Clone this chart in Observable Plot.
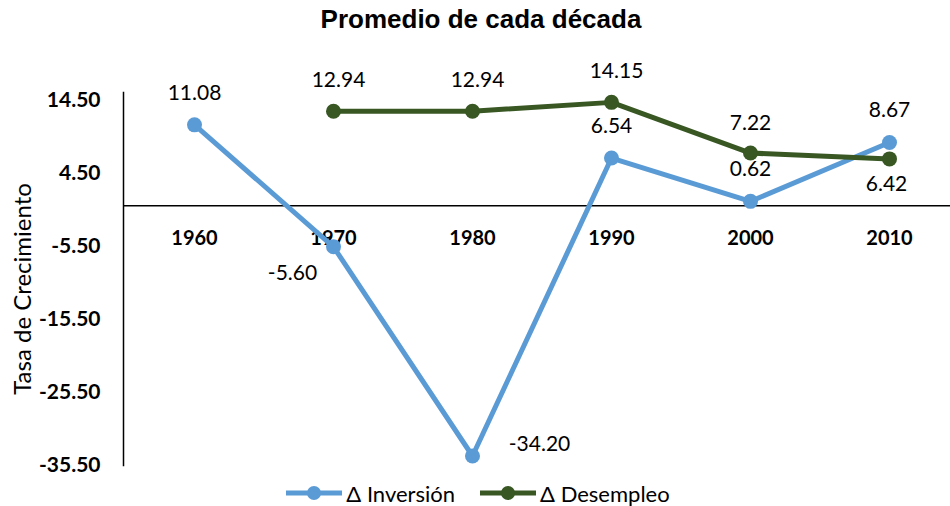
<!DOCTYPE html>
<html>
<head>
<meta charset="utf-8">
<script src="https://cdn.jsdelivr.net/npm/d3@7"></script>
<script src="https://cdn.jsdelivr.net/npm/@observablehq/plot@0.6"></script>
<style>
  html, body { margin: 0; padding: 0; background: #fff; }
  #wrap { width: 950px; height: 506px; position: relative; overflow: hidden; }
  #title { height: 44px; box-sizing: border-box; padding-top: 4px; padding-left: 12px; text-align: center;
           font-family: "Liberation Sans", Arial, sans-serif; font-weight: bold; font-size: 26px; color: #000; line-height: 30px; }
  #chart svg { display: block; }
  #legend { height: 26px; display: flex; align-items: center; justify-content: center; padding-left: 6px;
            font-family: Lato, sans-serif; font-size: 22px; color: #000; gap: 25px; }
  .item { display: flex; align-items: center; gap: 4px; }
  .item svg { display: block; }
</style>
</head>
<body>
<div id="wrap">
  <div id="title">Promedio de cada década</div>
  <div id="chart"></div>
  <div id="legend"></div>
</div>
<script>
const years = ["1960", "1970", "1980", "1990", "2000", "2010"];
const inversion = [11.08, -5.60, -34.20, 6.54, 0.62, 8.67];
const desempleo = [null, 12.94, 12.94, 14.15, 7.22, 6.42];
const yTicks = [14.5, 4.5, -5.5, -15.5, -25.5, -35.5];
const seriesNames = ["Δ Inversión", "Δ Desempleo"];
const seriesColors = ["#5B9BD5", "#385723"];
const yLabel = "Tasa de Crecimiento";

const seriesValues = [inversion, desempleo];
const rows = [];
seriesNames.forEach((s, si) => {
  years.forEach((yr, i) => {
    rows.push({ series: s, year: yr, value: seriesValues[si][i] });
  });
});

// label placement (style offsets)
const placements = [
  { series: 0, years: ["1960", "1990", "2000", "2010"], dx: 0, dy: -32 },
  { series: 0, years: ["1970"], dx: -41, dy: 26 },
  { series: 0, years: ["1980"], dx: 67, dy: -12 },
  { series: 1, years: ["1970", "1980", "1990"], dx: 5, dy: -31 },
  { series: 1, years: ["2000"], dx: 0, dy: -30 },
  { series: 1, years: ["2010"], dx: -3, dy: 25 }
];

const locale = d3.formatLocale({ decimal: ".", thousands: ",", grouping: [3], currency: ["$", ""], minus: "-" });
const fmt = locale.format(".2f");
const labelMarks = placements.map(p => Plot.text(
  rows.filter(r => r.series === seriesNames[p.series] && p.years.includes(r.year) && r.value != null),
  { x: "year", y: "value", text: d => fmt(d.value), dx: p.dx, dy: p.dy, fontSize: 21, fill: "#000" }
));

const lineMarks = seriesNames.flatMap((s, si) => [
  Plot.line(rows.filter(r => r.series === s), { x: "year", y: "value", stroke: seriesColors[si], strokeWidth: 5, strokeLinejoin: "round", strokeLinecap: "round" }),
  Plot.dot(rows.filter(r => r.series === s && r.value != null), { x: "year", y: "value", r: 7.5, fill: seriesColors[si], stroke: "none" })
]);

const chart = Plot.plot({
  width: 950,
  height: 436,
  marginLeft: 123,
  marginRight: 0,
  marginTop: 48,
  marginBottom: 15,
  style: { fontFamily: "Lato, sans-serif", background: "#fff", overflow: "visible" },
  x: { type: "point", domain: years, range: [123, 960], padding: 0.5, axis: null },
  y: { domain: [-35.5, 15.5], axis: null },
  marks: [
    Plot.ruleY([0], { stroke: "#000", strokeWidth: 1.5 }),
    Plot.frame({ anchor: "left", stroke: "#000", strokeWidth: 1.5 }),
    Plot.axisY({ ticks: yTicks, tickSize: 0, tickPadding: 23, tickFormat: fmt, fontSize: 21, fontWeight: "bold", label: null }),
    Plot.text(years, { x: d => d, y: () => 0, dy: 33, fontSize: 20, fontWeight: "bold", fill: "#000" }),
    Plot.text([yLabel], { frameAnchor: "left", textAnchor: "middle", rotate: -90, dx: -100, dy: 10, fontSize: 24, fill: "#000" }),
    ...lineMarks,
    ...labelMarks
  ]
});
document.getElementById("chart").appendChild(chart);

const legend = document.getElementById("legend");
seriesNames.forEach((s, si) => {
  const item = document.createElement("span");
  item.className = "item";
  item.innerHTML = `<svg width="56" height="18"><line x1="0" x2="56" y1="9" y2="9" stroke="${seriesColors[si]}" stroke-width="5" stroke-linecap="round"/><circle cx="28" cy="9" r="7" fill="${seriesColors[si]}"/></svg><span>${s}</span>`;
  legend.appendChild(item);
});
</script>
</body>
</html>
